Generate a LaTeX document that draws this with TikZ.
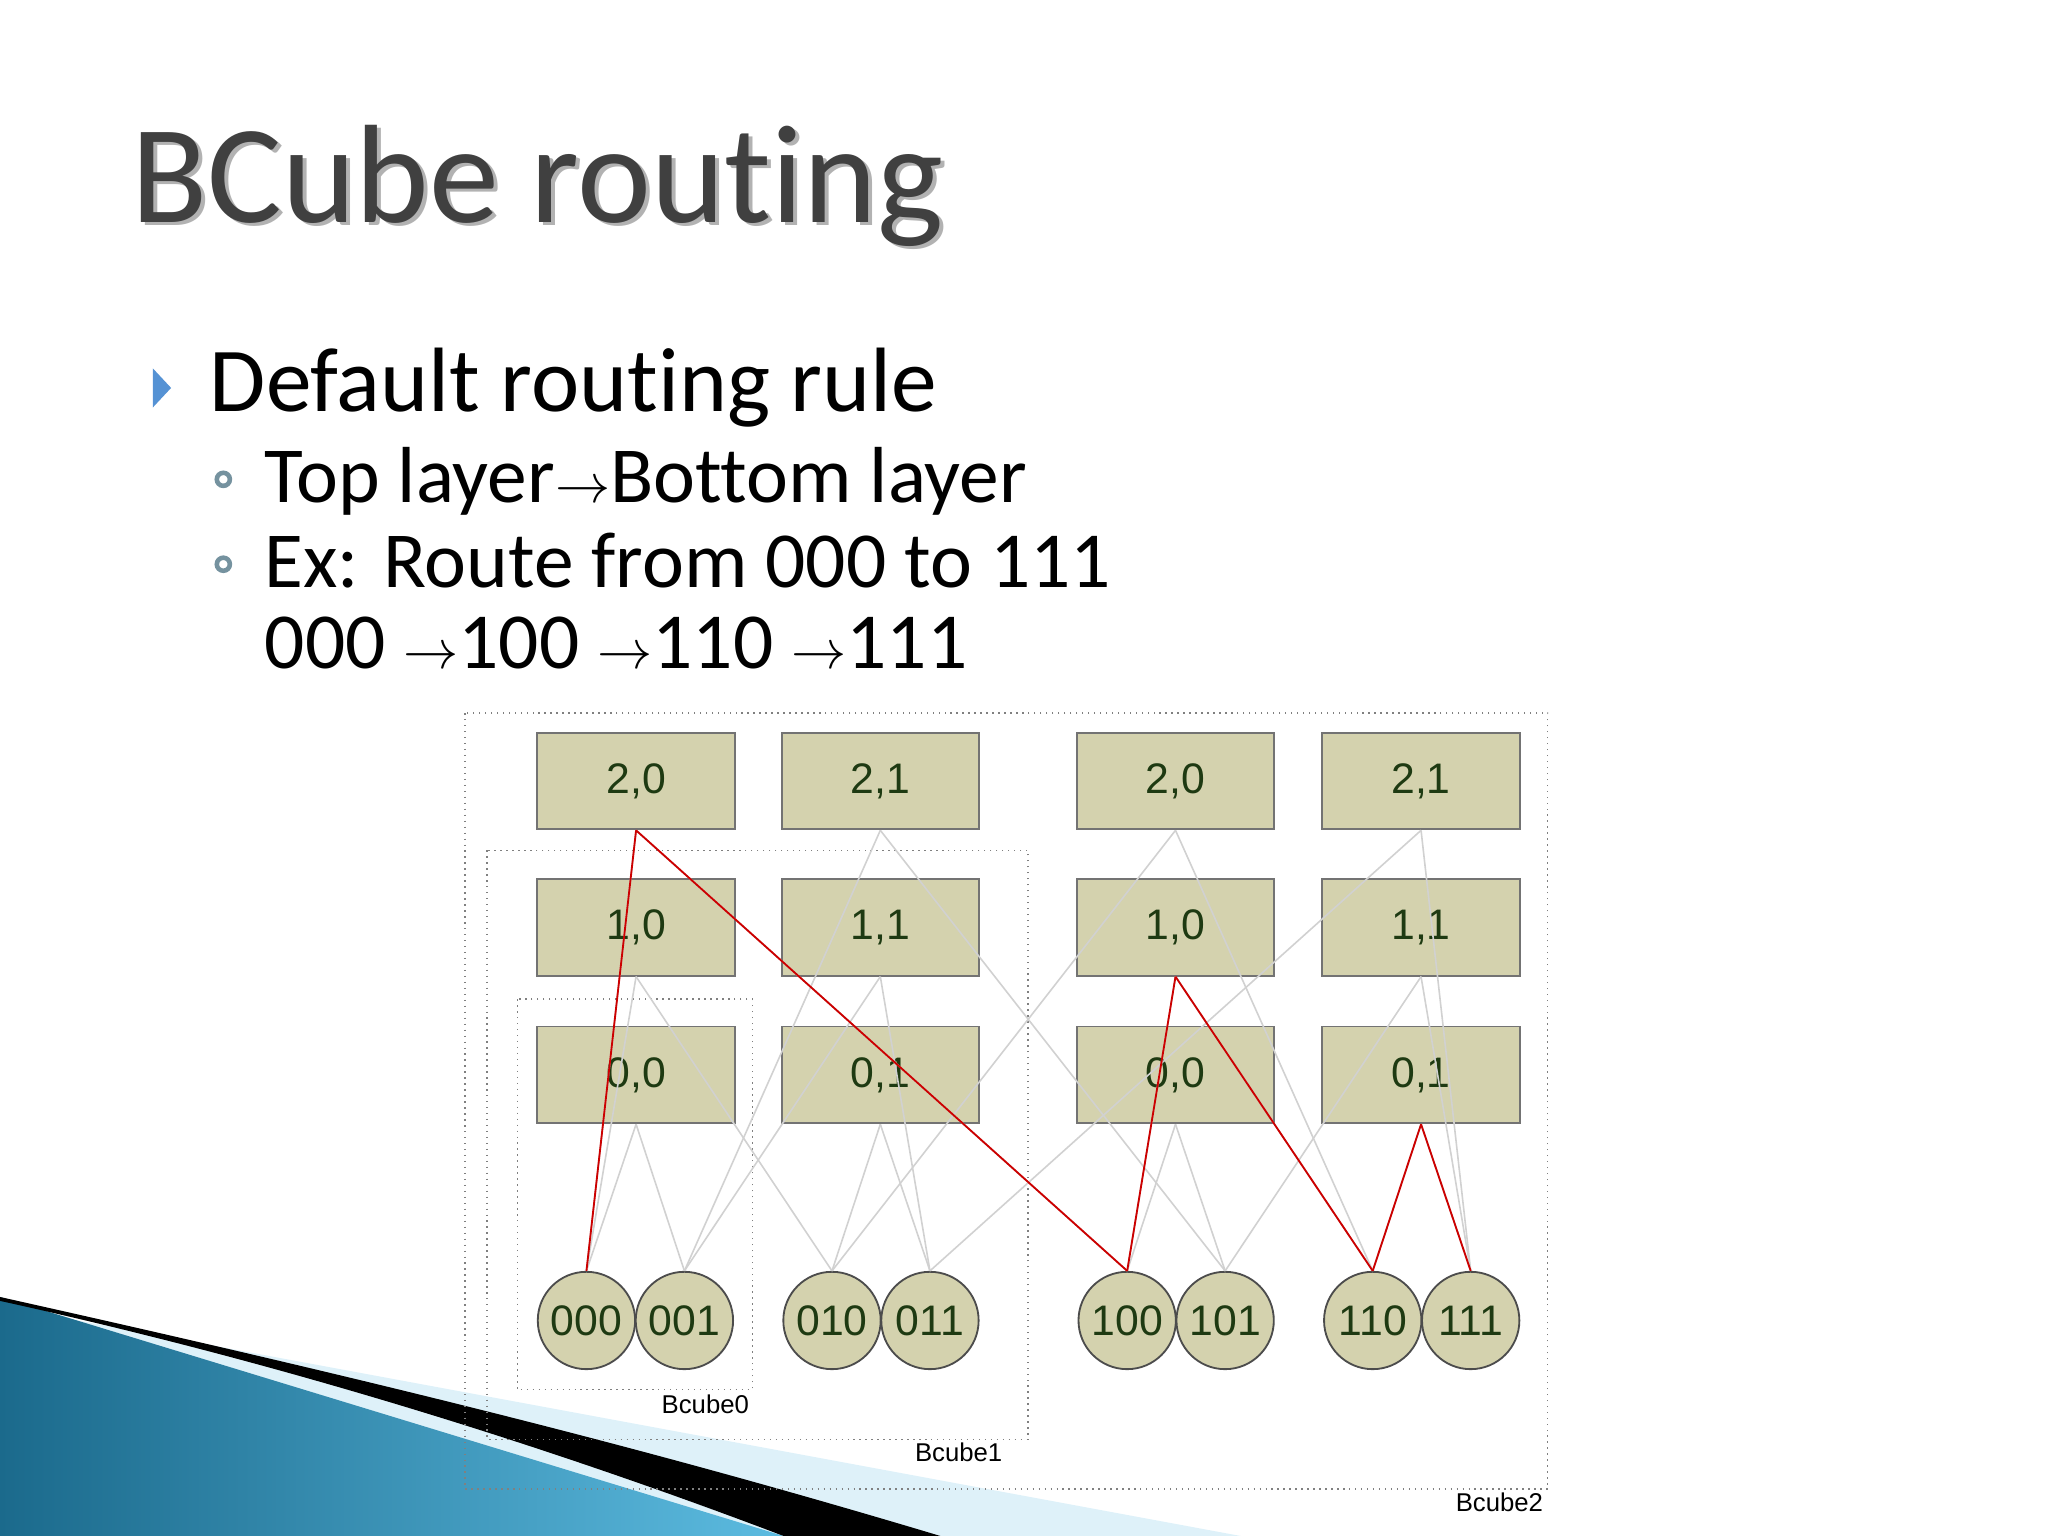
\documentclass[tikz,border=0pt]{standalone}
\usepackage{fontspec}
\setmainfont[Ligatures=NoCommon]{Carlito}
\newfontfamily\diag{Liberation Sans}
\newcommand\rar{{\fontsize{12}{12}\selectfont$\rightarrow$}}
\begin{document}
\begin{tikzpicture}[x=0.01cm,y=-0.01cm,
  sw/.style={draw=black!55,fill=swfill,minimum width=1.51cm,minimum height=0.74cm,inner sep=0pt,text=txtc,font=\diag\fontsize{9.3}{10}\selectfont},
  srv/.style={circle,draw=black!70,fill=swfill,minimum size=0.745cm,inner sep=0pt,text=txtc,font=\diag\fontsize{9.3}{10}\selectfont},
  gl/.style={draw=black!18,line width=0.35pt},
  rl/.style={draw=red!80!black,line width=0.4pt},
  bx/.style={draw=black!50,densely dotted,line width=0.3pt},
  bl/.style={font=\diag\fontsize{5.6}{6}\selectfont}]
\definecolor{swfill}{HTML}{D4D2AE}
\definecolor{txtc}{HTML}{1E3A12}
\definecolor{swd}{HTML}{1B6A8C}
\definecolor{swl}{HTML}{5CBBE0}
\useasboundingbox (0,0) rectangle (1568,1176);
% swoosh
\fill[swl!20] (0,1000) -- (950,1176) -- (0,1176) -- cycle;
\shade[left color=swd,right color=swl] (0,993) -- (600,1176) -- (0,1176) -- cycle;
\fill[black] (0,993) .. controls (300,1060) and (500,1110) .. (720,1176) -- (600,1176) .. controls (400,1100) and (200,1040) .. (0,996) -- cycle;
% title
\node[anchor=base west,inner sep=0pt,text=black!30,font=\fontsize{30.5}{32}\selectfont] at (103,173) {BCube routing};
\node[anchor=base west,inner sep=0pt,text=black!75,font=\fontsize{30.5}{32}\selectfont] (title) at (100,170) {BCube routing};
\fill[cyan!55!blue!70] (117,282) -- (131,297) -- (117,312) -- cycle;
\node[anchor=base west,inner sep=0pt,font=\fontsize{19.9}{22}\selectfont] (b1) at (160,315) {Default routing rule};
\draw[cyan!40!black!70,line width=1pt] (171,367) circle (5);
\draw[cyan!40!black!70,line width=1pt] (171,432) circle (5);
\node[anchor=base west,inner sep=0pt,font=\fontsize{17.3}{20}\selectfont] (s1) at (202,385) {Top layer\rar Bottom layer};
\node[anchor=base west,inner sep=0pt,font=\fontsize{17.3}{20}\selectfont] (s2) at (202,450) {Ex: Route from 000 to 111};
\node[anchor=base west,inner sep=0pt,font=\fontsize{17.3}{20}\selectfont] (s3) at (202,512) {000 \rar 100 \rar 110 \rar 111};
% boxes
\draw[bx] (356,546) rectangle (1185,1140);
\draw[bx] (373,651) rectangle (787,1102);
\draw[bx] (396,765) rectangle (576,1064);
\node[bl] at (540,1075) {Bcube0};
\node[bl] at (734,1112) {Bcube1};
\node[bl] at (1148,1150) {Bcube2};
% switches
\foreach \n/\x/\l in {a/487/{2,0},b/674/{2,1},c/900/{2,0},d/1088/{2,1}} \node[sw] (t\n) at (\x,598) {\l};
\foreach \n/\x/\l in {a/487/{1,0},b/674/{1,1},c/900/{1,0},d/1088/{1,1}} \node[sw] (m\n) at (\x,710) {\l};
\foreach \n/\x/\l in {a/487/{0,0},b/674/{0,1},c/900/{0,0},d/1088/{0,1}} \node[sw] (l\n) at (\x,823) {\l};
\foreach \a/\x in {000/449,001/524,010/637,011/712,100/863,101/938,110/1051,111/1126} \node[srv] (h\a) at (\x,1011) {\a};
% links
\foreach \s/\a/\b in {la/000/001,lb/010/011,lc/100/101,ld/110/111,ma/000/010,mb/001/011,mc/100/110,md/101/111,ta/000/100,tb/001/101,tc/010/110,td/011/111}{
  \draw[gl] (\s.south) -- (h\a.north);
  \draw[gl] (\s.south) -- (h\b.north);}
\draw[rl] (ta.south) -- (h000.north);
\draw[rl] (ta.south) -- (h100.north);
\draw[rl] (mc.south) -- (h100.north);
\draw[rl] (mc.south) -- (h110.north);
\draw[rl] (ld.south) -- (h110.north);
\draw[rl] (ld.south) -- (h111.north);
\end{tikzpicture}
\end{document}
